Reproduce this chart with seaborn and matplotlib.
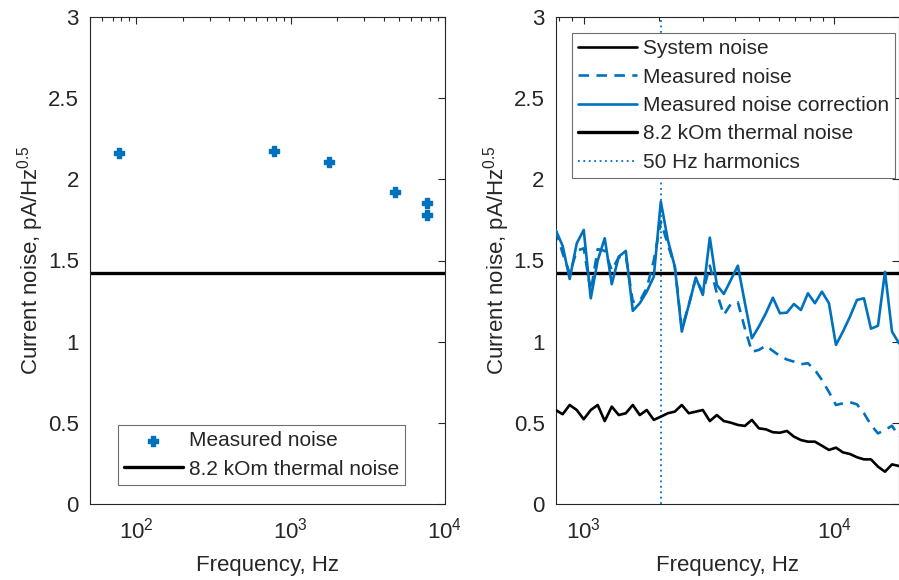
import numpy as np
import pandas as pd
import matplotlib
matplotlib.use("Agg")
import matplotlib.pyplot as plt
import seaborn as sns

# ---------------- data ----------------
# left panel: measured points
meas_freq = [77, 776, 1774, 4750, 7700, 7700]
meas_noise = [2.16, 2.177, 2.105, 1.924, 1.857, 1.78]
thermal_noise = 1.42  # 8.2 kOhm thermal noise, pA/Hz^0.5

# right panel: spectra (log-spaced frequencies)
spec_freq = [773, 824, 879, 938, 1000, 1067, 1137, 1213, 1294, 1380,
             1472, 1570, 1674, 1785, 1904, 2031, 2166, 2310, 2463, 2627,
             2802, 2988, 3187, 3399, 3625, 3866, 4123, 4397, 4690, 5002,
             5334, 5689, 6068, 6471, 6902, 7361, 7850, 8372, 8929, 9523,
             10157, 10832, 11553, 12321, 13141, 14015, 14947, 15941, 17001, 18132]
system_noise = [0.579, 0.553, 0.610, 0.579, 0.522, 0.579, 0.610, 0.511, 0.600, 0.548,
                0.559, 0.610, 0.548, 0.579, 0.518, 0.538, 0.559, 0.569, 0.610, 0.559,
                0.569, 0.579, 0.511, 0.548, 0.511, 0.501, 0.487, 0.481, 0.518, 0.466,
                0.460, 0.442, 0.439, 0.450, 0.415, 0.394, 0.384, 0.384, 0.359, 0.333,
                0.347, 0.318, 0.308, 0.288, 0.275, 0.275, 0.230, 0.199, 0.244, 0.234]
measured_noise = [1.688, 1.545, 1.42, 1.56, 1.575, 1.31, 1.57, 1.56, 1.44, 1.52,
                  1.53, 1.246, 1.25, 1.33, 1.50, 1.74, 1.60, 1.462, 1.08, 1.226,
                  1.394, 1.30, 1.468, 1.298, 1.165, 1.232, 1.243, 1.082, 0.938, 0.949,
                  0.975, 0.943, 0.912, 0.89, 0.877, 0.861, 0.867, 0.826, 0.764, 0.69,
                  0.61, 0.62, 0.627, 0.614, 0.559, 0.487, 0.435, 0.456, 0.482, 0.415]
corrected_noise = [1.688, 1.59, 1.386, 1.606, 1.688, 1.267, 1.50, 1.637, 1.354, 1.524,
                   1.559, 1.19, 1.237, 1.308, 1.40, 1.863, 1.627, 1.462, 1.062, 1.226,
                   1.394, 1.288, 1.641, 1.349, 1.294, 1.38, 1.468, 1.24, 1.021, 1.093,
                   1.175, 1.271, 1.175, 1.179, 1.232, 1.195, 1.298, 1.237, 1.308, 1.237,
                   0.98, 1.062, 1.154, 1.257, 1.267, 1.08, 1.098, 1.43, 1.062, 0.99]
harmonic_freq = 2040

yticks = [0, 0.5, 1, 1.5, 2, 2.5, 3]
ytick_labels = ["0", "0.5", "1", "1.5", "2", "2.5", "3"]

labels_right = ["System noise", "Measured noise", "Measured noise correction",
                "8.2 kOm thermal noise", "50 Hz harmonics"]
labels_left = ["Measured noise", "8.2 kOm thermal noise"]

# ---------------- style ----------------
sns.set_theme(style="white")
plt.rcParams["font.family"] = ["Liberation Sans", "DejaVu Sans"]
plt.rcParams["mathtext.default"] = "regular"
plt.rcParams["mathtext.fontset"] = "custom"
plt.rcParams["mathtext.rm"] = "Liberation Sans"
plt.rcParams["mathtext.it"] = "Liberation Sans"

BLUE = "#0072BD"
AXC = "#262626"
FS = 16

fig = plt.figure(figsize=(8.99, 5.80), dpi=100)
W, H = 899, 580
axL = fig.add_axes([90 / W, (H - 504) / H, 355 / W, 487 / H])
axR = fig.add_axes([555.7 / W, (H - 504) / H, (899 - 555.7) / W, 487 / H])

left_df = pd.DataFrame({"f": meas_freq, "v": meas_noise})
spec_df = pd.DataFrame({"f": spec_freq, "sys": system_noise,
                        "meas": measured_noise, "corr": corrected_noise})

for ax in (axL, axR):
    ax.set_xscale("log")

# left panel
sns.scatterplot(data=left_df, x="f", y="v", ax=axL, marker="P", s=60,
                color=BLUE, edgecolor=BLUE, linewidth=1.0, zorder=3)
axL.axhline(thermal_noise, color="black", lw=2.4, zorder=2)
axL.set_xlim(50, 1e4)

# right panel
LW = 1.9
sns.lineplot(data=spec_df, x="f", y="sys", ax=axR, color="black", lw=LW,
             estimator=None, sort=False, zorder=3)
sns.lineplot(data=spec_df, x="f", y="meas", ax=axR, color=BLUE, lw=LW,
             estimator=None, sort=False, zorder=3)
axR.lines[-1].set_dashes((4.0, 2.8))
sns.lineplot(data=spec_df, x="f", y="corr", ax=axR, color=BLUE, lw=LW,
             estimator=None, sort=False, zorder=3)
axR.axhline(thermal_noise, color="black", lw=2.4, zorder=2)
axR.axvline(harmonic_freq, color=BLUE, lw=1.3, ls=(0, (1, 2.0)), zorder=1)
axR.set_xlim(spec_freq[0], spec_freq[-1])

for ax in (axL, axR):
    ax.set_ylim(0, 3)
    ax.set_yticks(yticks)
    ax.set_yticklabels(ytick_labels)
    ax.tick_params(axis="both", which="both", direction="in", top=True, right=True,
                   colors=AXC, labelcolor=AXC, labelsize=FS, width=0.8)
    ax.tick_params(which="major", length=5)
    ax.tick_params(axis="y", which="major", pad=8)
    ax.tick_params(axis="x", which="major", pad=10)
    ax.tick_params(which="minor", length=2.8)
    for s in ax.spines.values():
        s.set_color(AXC)
        s.set_linewidth(0.8)
        s.set_visible(True)
    ax.set_xlabel("Frequency, Hz", fontsize=FS, color=AXC, labelpad=8)
    ax.set_ylabel("Current noise, pA/Hz$^{0.5}$", fontsize=FS, color=AXC, labelpad=1.5)
    ax.grid(False)

axL.xaxis.set_major_locator(matplotlib.ticker.LogLocator(base=10, numticks=10))
axR.xaxis.set_major_locator(matplotlib.ticker.LogLocator(base=10, numticks=10))

# legends
leg_kw = dict(loc="upper left", fontsize=15, frameon=True, fancybox=False,
              edgecolor="#6e6e6e", handlelength=2.8, handletextpad=0.3,
              borderpad=0.3, labelspacing=0.45, borderaxespad=0, framealpha=1)
hL = [axL.collections[0], axL.lines[0]]
legL = axL.legend(hL, labels_left, bbox_to_anchor=(0.079, 0.162), **leg_kw)
legL.get_frame().set_linewidth(0.8)

hR = [axR.lines[0], axR.lines[1], axR.lines[2], axR.lines[3], axR.lines[4]]
legR = axR.legend(hR, labels_right, bbox_to_anchor=(0.0475, 0.967), **leg_kw)
legR.get_frame().set_linewidth(0.8)

fig.savefig("out.png", dpi=100, facecolor="white")
